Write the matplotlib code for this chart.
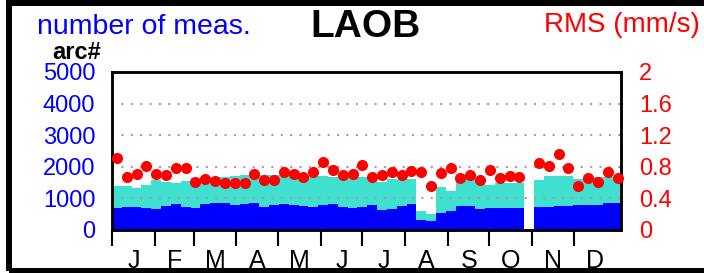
"""
LAOB weekly station summary: number of measurements (stacked bars)
and RMS of residuals (red dots) over one year.
"""

import numpy as np
import matplotlib
matplotlib.use('Agg')
import matplotlib.pyplot as plt
from matplotlib.patches import Rectangle

plt.rcParams['font.family'] = ['Liberation Sans', 'DejaVu Sans']

# ── data (one value per week, 52 weeks) ───────────────────
n_total = [1400, 1400, 1330, 1420, 1580, 1510, 1500, 1540, 1650, 1680,
           1680, 1690, 1700, 1740, 1740, 1740, 1730, 1730, 1720, 1720,
           1710, 1700, 1690, 1680, 1680, 1690, 1690, 1530, 1620, 1620,
           1620, 600, 520, 1370, 1250, 1600, 1600, 1530, 1430, 1480,
           1490, 1500, 0, 1570, 1700, 1710, 1710, 1620, 1620, 1680,
           1680, 1600]
n_blue = [690, 740, 715, 700, 680, 770, 810, 730, 710, 820,
          860, 850, 800, 823, 850, 740, 780, 813, 790, 770,
          740, 780, 813, 740, 700, 740, 791, 620, 650, 750,
          813, 330, 280, 528, 600, 770, 760, 665, 690, 686,
          690, 686, 0, 738, 738, 750, 770, 780, 791, 800,
          844, 850]
rms = [0.91, 0.67, 0.71, 0.81, 0.71, 0.69, 0.78, 0.78, 0.61, 0.64,
       0.62, 0.60, 0.60, 0.60, 0.71, 0.63, 0.63, 0.73, 0.71, 0.67,
       0.74, 0.86, 0.76, 0.70, 0.71, 0.82, 0.67, 0.70, 0.73, 0.69,
       0.75, 0.73, 0.56, 0.72, 0.79, 0.66, 0.69, 0.63, 0.76, 0.66,
       0.68, 0.67, np.nan, 0.85, 0.81, 0.96, 0.78, 0.56, 0.66, 0.61,
       0.73, 0.66]

month_labels = ['J', 'F', 'M', 'A', 'M', 'J', 'J', 'A', 'S', 'O', 'N', 'D']
month_start = [0, 31, 59, 90, 120, 151, 181, 212, 243, 273, 304, 334]
count_ticks = [0, 1000, 2000, 3000, 4000, 5000]
rms_ticks = [0, 0.4, 0.8, 1.2, 1.6, 2.0]
rms_labels = ['0', '0.4', '0.8', '1.2', '1.6', '2']

DAYS_PER_UNIT = 7.1
W, H = 704, 273

fig = plt.figure(figsize=(W / 100, H / 100), dpi=100)
ax = fig.add_axes([112 / W, 1 - 230 / H, 509 / W, 158 / H])

weeks = np.arange(len(n_total))
ax.bar(weeks, n_total, width=1.0, align='edge', color='#40e0d0', lw=0, zorder=1)
ax.bar(weeks, n_blue, width=1.0, align='edge', color='#0000ff', lw=0, zorder=1.5)

for v in count_ticks[1:-1]:
    ax.axhline(v, color='#bf9696', lw=1.5, ls=(0, (1, 3.5)), zorder=2)

ax.set_xlim(0, 51.85)
ax.set_ylim(0, 5000)
ax.set_yticks(count_ticks)
ax.tick_params(axis='y', length=0, pad=12, labelsize=17, labelcolor='#0000ff')

starts = np.array(month_start) / DAYS_PER_UNIT
ends = np.array(month_start[1:] + [365]) / DAYS_PER_UNIT
ax.set_xticks(starts)
ax.set_xticklabels([])
ax.set_xticks((starts + ends) / 2, minor=True)
ax.set_xticklabels(month_labels, minor=True)
ax.tick_params(axis='x', which='major', direction='out', length=11.5, width=1.5)
ax.tick_params(axis='x', which='minor', length=0, pad=13.5, labelsize=18)
for s in ax.spines.values():
    s.set_linewidth(1.8)

ax2 = ax.twinx()
ax2.plot(weeks + 0.5, rms, 'o', color='#ff0000', ms=8, mec='none',
         zorder=3, clip_on=False)
ax2.set_ylim(0, 2)
ax2.set_yticks(rms_ticks)
ax2.set_yticklabels(rms_labels)
ax2.tick_params(axis='y', length=0, pad=13, labelsize=17, labelcolor='#ff0000')
for s in ax2.spines.values():
    s.set_linewidth(1.8)

fig.text(37 / W, 1 - 34 / H, 'number of meas.', color='#0000ff', fontsize=20.5,
         va='baseline', ha='left')
fig.text(310 / W, 1 - 37 / H, 'LAOB', color='black', fontsize=28,
         fontweight='bold', va='baseline', ha='left')
fig.text(544 / W, 1 - 32 / H, 'RMS (mm/s)', color='#ff0000', fontsize=20,
         va='baseline', ha='left')
fig.text(52 / W, 1 - 59 / H, 'arc#', color='black', fontsize=17,
         fontweight='bold', va='baseline', ha='left')

# outer frame
fig.patches.append(Rectangle((9 / W, 2.5 / H), 710 / W, 268 / H, fill=False,
                             ec='black', lw=4.3, transform=fig.transFigure,
                             figure=fig, zorder=10))

fig.savefig('out.png', dpi=100)
